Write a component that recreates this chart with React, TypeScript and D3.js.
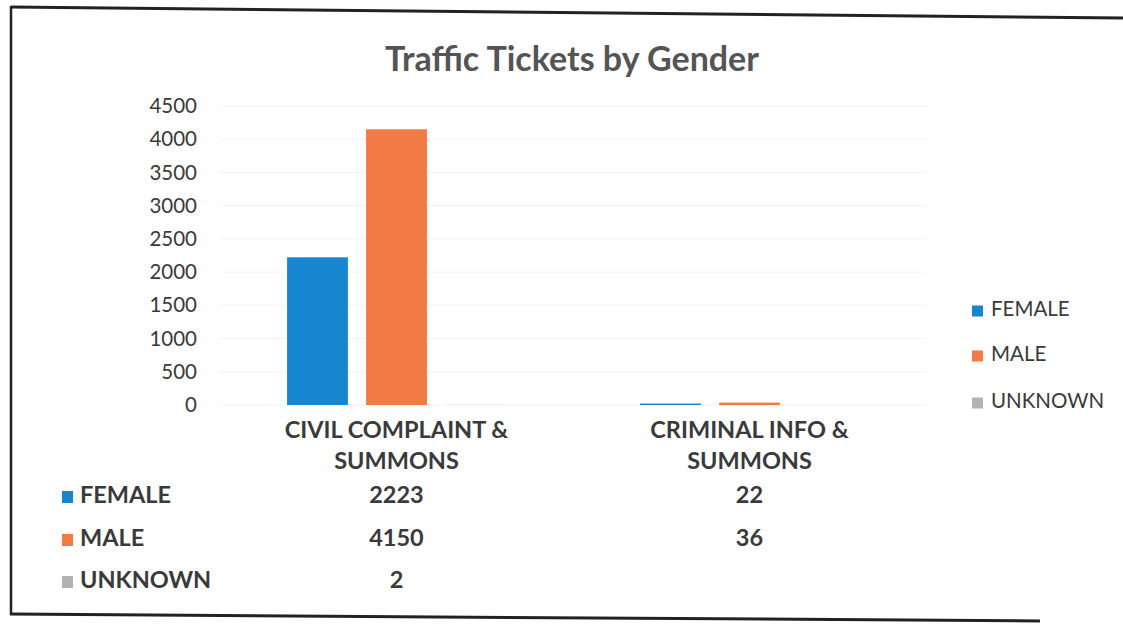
import React, { useRef, useEffect } from "react";
import { select, scaleLinear, scaleBand, axisLeft } from "d3";

const categories = ["CIVIL COMPLAINT & SUMMONS", "CRIMINAL INFO & SUMMONS"];
const categoryLines = [["CIVIL COMPLAINT &", "SUMMONS"], ["CRIMINAL INFO &", "SUMMONS"]];
const seriesNames = ["FEMALE", "MALE", "UNKNOWN"];
const female = [2223, 22];
const male = [4150, 36];
const unknown: (number | null)[] = [2, null];
const yTicks = [0, 500, 1000, 1500, 2000, 2500, 3000, 3500, 4000, 4500];

const colors = ["#1786d0", "#f47a45", "#b3b3b3"];
const FONT = "Lato, 'Open Sans', sans-serif";

function App() {
  const axisRef = useRef<SVGGElement>(null);
  const series = [female, male, unknown];

  const y = scaleLinear().domain([0, 4500]).range([405, 106]);
  const x0 = scaleBand().domain(categories).range([220, 926]);
  const bw = x0.bandwidth();
  const x1 = scaleBand()
    .domain(seriesNames)
    .range([bw * 0.19, bw * 0.81])
    .paddingInner(0.23);

  useEffect(() => {
    const g = select(axisRef.current);
    g.call(
      axisLeft(y)
        .tickValues(yTicks)
        .tickSize(0)
        .tickPadding(0)
        .tickFormat((d: any) => String(d)) as any
    );
    g.select(".domain").remove();
    g.selectAll("text")
      .attr("font-family", FONT)
      .attr("font-size", 20.5)
      .attr("fill", "#3a3a3a");
  }, []);

  const rowY = [497, 540, 582];

  return (
    <svg
      width={1123}
      height={624}
      style={{ position: "absolute", left: 0, top: 0, background: "#fff" }}
    >
      {/* scan border */}
      <line x1={11} y1={7} x2={1123} y2={18} stroke="#222" strokeWidth={3} />
      <line x1={11} y1={6} x2={11} y2={615} stroke="#222" strokeWidth={2.5} />
      <line x1={10} y1={614} x2={1040} y2={621} stroke="#222" strokeWidth={3} />

      <text
        x={572}
        y={71}
        textAnchor="middle"
        fontFamily={FONT}
        fontWeight="bold"
        fontSize={34}
        fill="#545454"
      >
        Traffic Tickets by Gender
      </text>

      {yTicks.map((t) => (
        <line key={t} x1={220} x2={926} y1={y(t)} y2={y(t)} stroke="#f3f3f3" strokeWidth={1} />
      ))}

      <g ref={axisRef} transform="translate(197,0)" />

      {categories.map((c, ci) => (
        <g key={c} transform={`translate(${x0(c)},0)`}>
          {seriesNames.map((s, si) => {
            const v = series[si][ci];
            if (v == null) return null;
            return (
              <rect
                key={s}
                x={x1(s)}
                width={x1.bandwidth()}
                y={y(v)}
                height={y(0) - y(v)}
                fill={colors[si]}
              />
            );
          })}
          {categoryLines[ci].map((line, li) => (
            <text
              key={li}
              x={bw / 2}
              y={432 + li * 31}
              textAnchor="middle"
              dominantBaseline="middle"
              fontFamily={FONT}
              fontWeight="bold"
              fontSize={23.5}
              fill="#3a3a3a"
            >
              {line}
            </text>
          ))}
        </g>
      ))}

      {/* right legend */}
      {seriesNames.map((s, si) => (
        <g key={s} transform={`translate(972,${[311, 356, 403][si]})`}>
          <rect x={0} y={-5.5} width={11} height={11} fill={colors[si]} />
          <text
            x={19}
            y={0}
            dominantBaseline="middle"
            fontFamily={FONT}
            fontSize={20.5}
            fill="#3a3a3a"
          >
            {s}
          </text>
        </g>
      ))}

      {/* data table */}
      {seriesNames.map((s, si) => (
        <g key={s}>
          <rect x={62} y={rowY[si] - 6} width={11} height={12} fill={colors[si]} />
          <text
            x={80}
            y={rowY[si]}
            dominantBaseline="middle"
            fontFamily={FONT}
            fontWeight="bold"
            fontSize={23.5}
            fill="#3a3a3a"
          >
            {s}
          </text>
          {categories.map((c, ci) => {
            const v = series[si][ci];
            return v == null ? null : (
              <text
                key={c}
                x={(x0(c) as number) + bw / 2}
                y={rowY[si]}
                textAnchor="middle"
                dominantBaseline="middle"
                fontFamily={FONT}
                fontWeight="bold"
                fontSize={23.5}
                fill="#3a3a3a"
              >
                {v}
              </text>
            );
          })}
        </g>
      ))}
    </svg>
  );
}

export default App;
